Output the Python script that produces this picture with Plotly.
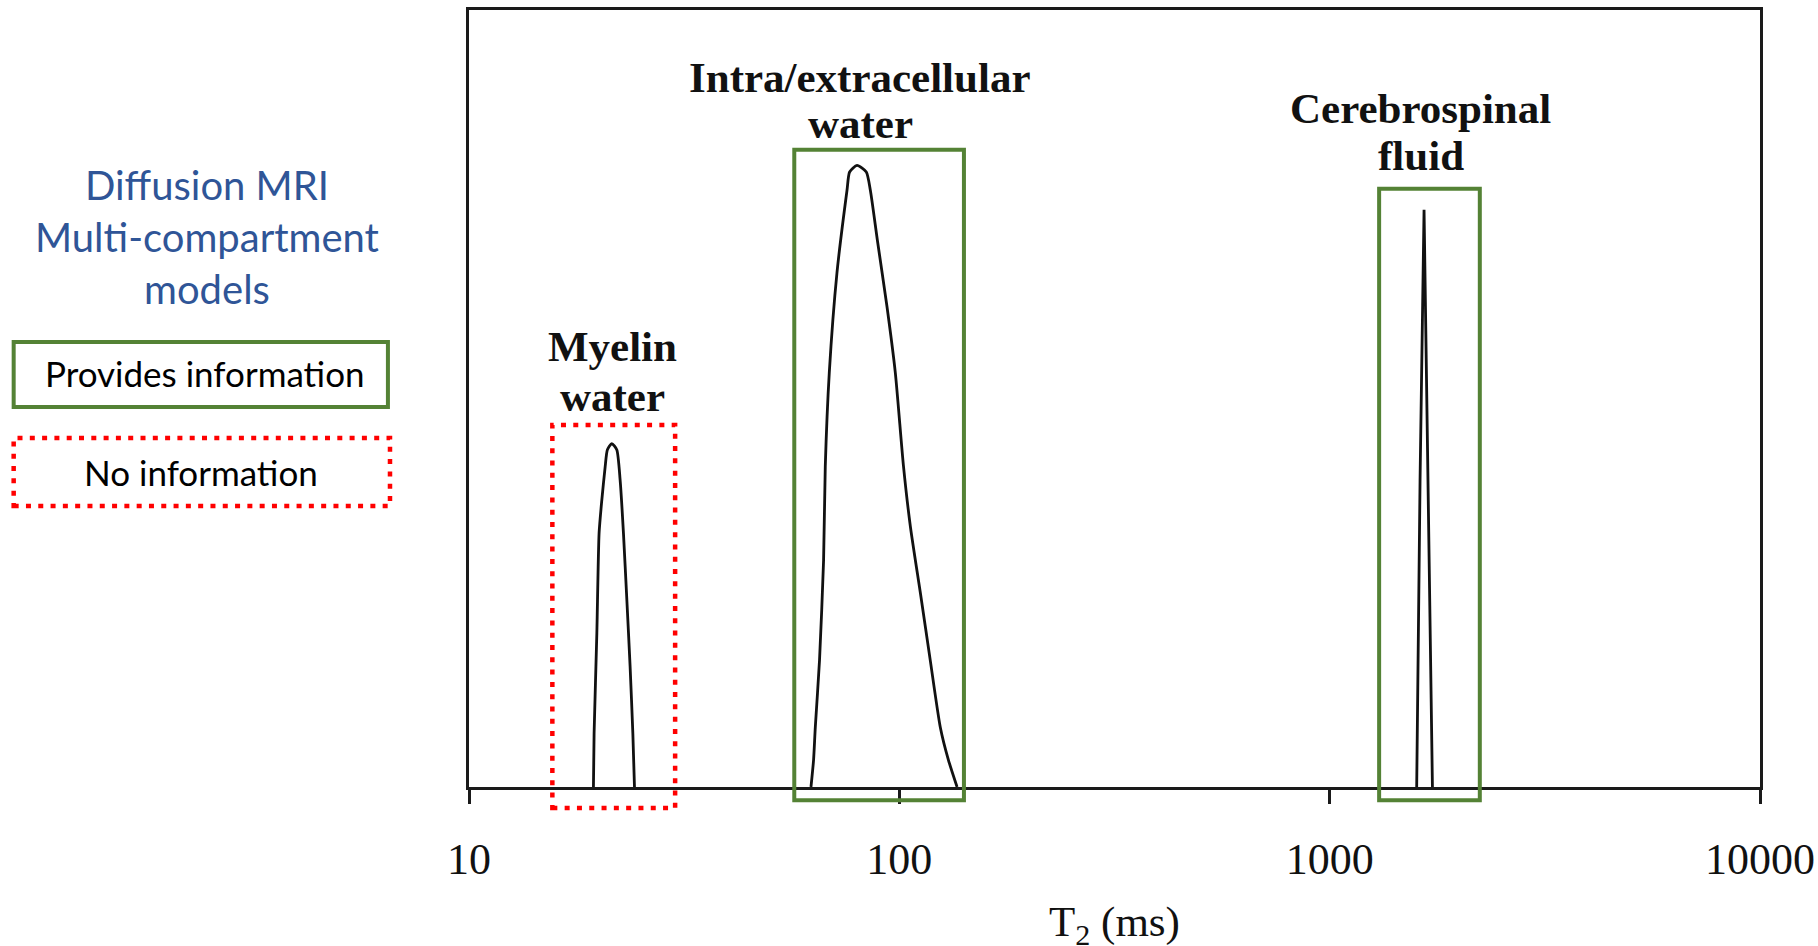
import numpy as np
import plotly.graph_objects as go

# ---------------- data (T2 in ms, normalised amplitude) ----------------
myelin_t2 = [19.46, 19.53, 19.82, 20.06, 20.35, 20.72, 20.97, 21.47, 22.05, 22.45, 22.85, 23.27, 23.68, 24.03, 24.24]
myelin_amp = [0.0, 0.069, 0.198, 0.327, 0.369, 0.412, 0.434, 0.442, 0.434, 0.395, 0.327, 0.241, 0.155, 0.069, 0.0]

intra_t2 = [62.33, 63.2, 63.79, 65.24, 66.68, 67.28, 68.74, 71.63, 75.58, 76.64, 79.74, 83.8, 85.64,
            88.9, 93.62, 97.88, 102.2, 106.1, 111.9, 118.0, 124.5, 130.0, 136.2]
intra_amp = [0.0, 0.035, 0.077, 0.163, 0.292, 0.412, 0.533, 0.662, 0.768, 0.7915, 0.800, 0.7915, 0.768,
             0.704, 0.618, 0.533, 0.414, 0.335, 0.250, 0.163, 0.077, 0.035, 0.0]

csf_t2 = [1593, 1622, 1657, 1690, 1733]
csf_amp = [0.0, 0.395, 0.743, 0.395, 0.0]

tick_vals = [10, 100, 1000, 10000]
tick_text = ["10", "100", "1000", "10000"]

# compartment labels (two lines each), label centre (ms) and line heights
label_line1 = ["Myelin", "Intra/extracellular", "Cerebrospinal"]
label_line2 = ["water", "water", "fluid"]
label_x = [21.6, 81.2, 1628]
label_y1 = [0.5665, 0.9125, 0.873]
label_y2 = [0.5025, 0.854, 0.813]

# boxes around compartments (ms / normalised amplitude)
box_x0 = [15.62, 57.0, 1303]
box_x1 = [30.13, 141.3, 2233]
box_top = [0.466, 0.820, 0.770]
box_bottom = [-0.027, -0.017, -0.017]
box_informative = [False, True, True]

GREEN = "#548235"
RED = "#FF0000"
BLUE = "#2F5597"
SERIF = "Liberation Serif"
SANS = "Lato"

fig = go.Figure()
line_style = dict(color="#111111", width=2.8)
fig.add_trace(go.Scatter(x=myelin_t2, y=myelin_amp, mode="lines", line=dict(**line_style, shape="spline", smoothing=0.6),
                         showlegend=False, hoverinfo="skip"))
fig.add_trace(go.Scatter(x=intra_t2, y=intra_amp, mode="lines", line=dict(**line_style, shape="spline", smoothing=0.6),
                         showlegend=False, hoverinfo="skip"))
fig.add_trace(go.Scatter(x=csf_t2, y=csf_amp, mode="lines", line=dict(**line_style),
                         showlegend=False, hoverinfo="skip"))

# compartment boxes
for x0, x1, top, bot, info in zip(box_x0, box_x1, box_top, box_bottom, box_informative):
    if info:
        ln = dict(color=GREEN, width=4)
    else:
        ln = dict(color=RED, width=4.5, dash="5px,7.3px")
    fig.add_shape(type="rect", xref="x", yref="paper", x0=x0, x1=x1, y0=bot, y1=top, line=ln,
                  fillcolor="rgba(0,0,0,0)", layer="above")

# compartment labels
for t1, t2, lx, y1, y2 in zip(label_line1, label_line2, label_x, label_y1, label_y2):
    for txt, yy in ((t1, y1), (t2, y2)):
        fig.add_annotation(x=np.log10(lx), y=yy, xref="x", yref="y", text=txt, showarrow=False,
                           xanchor="center", yanchor="middle",
                           font=dict(family=SERIF, size=43, color="#111111", weight="bold"))

# x axis title
fig.add_annotation(x=0.5, y=-0.177, xref="paper", yref="paper", text="T<sub>2</sub> (ms)", showarrow=False,
                   xanchor="center", yanchor="middle", font=dict(family=SERIF, size=43, color="#111111"))

# left-hand key
fig.add_annotation(x=-0.2031, y=0.7076, xref="paper", yref="paper",
                   text="Diffusion MRI<br>Multi-compartment<br>models", showarrow=False,
                   xanchor="center", yanchor="middle", align="center",
                   font=dict(family=SANS, size=40, color=BLUE))
fig.add_shape(type="rect", xref="paper", yref="paper", x0=-0.3527, x1=-0.0628, y0=0.4891, y1=0.5727,
              line=dict(color=GREEN, width=4))
fig.add_annotation(x=-0.2043, y=0.5330, xref="paper", yref="paper", text="Provides information",
                   showarrow=False, xanchor="center", yanchor="middle",
                   font=dict(family=SANS, size=35, color="#000000"))
fig.add_shape(type="rect", xref="paper", yref="paper", x0=-0.3527, x1=-0.0612, y0=0.3617, y1=0.4492,
              line=dict(color=RED, width=4.5, dash="5px,7.3px"))
fig.add_annotation(x=-0.2078, y=0.4056, xref="paper", yref="paper", text="No information",
                   showarrow=False, xanchor="center", yanchor="middle",
                   font=dict(family=SANS, size=35, color="#000000"))

fig.update_layout(
    template="none",
    width=1818, height=946,
    margin=dict(l=469, r=58, t=10, b=159, autoexpand=False),
    paper_bgcolor="white", plot_bgcolor="white",
    showlegend=False,
    xaxis=dict(type="log", range=[1, 4], tickmode="array", tickvals=tick_vals, ticktext=tick_text,
               automargin=False,
               showgrid=False, zeroline=False, showline=True, linecolor="#1a1a1a", linewidth=3, mirror=True,
               ticks="outside", ticklen=14, tickwidth=2.5, tickcolor="#1a1a1a", ticklabelstandoff=17,
               tickfont=dict(family=SERIF, size=44, color="#111111")),
    yaxis=dict(range=[0, 1], automargin=False, showgrid=False, zeroline=False, showticklabels=False, ticks="",
               showline=True, linecolor="#1a1a1a", linewidth=3, mirror=True),
)

fig.write_html("out.html")
